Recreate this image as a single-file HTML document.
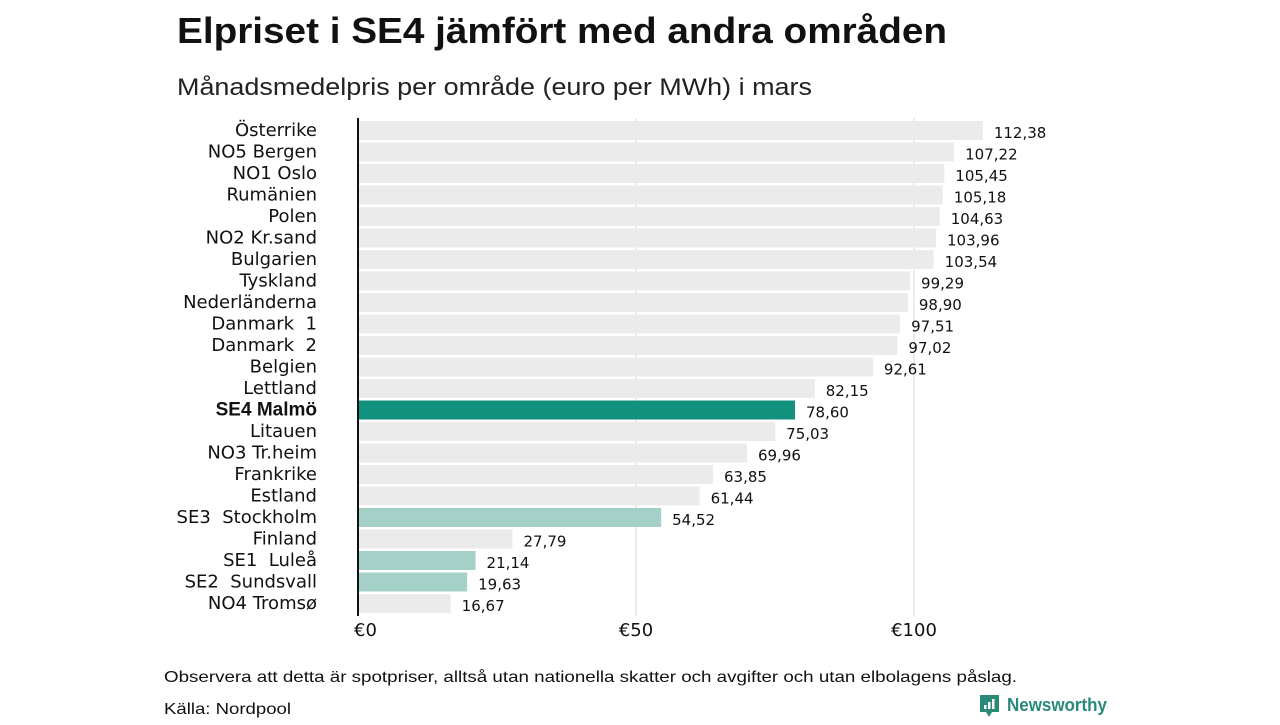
<!DOCTYPE html>
<html><head><meta charset="utf-8"><style>
body{margin:0;background:#fff;width:1280px;height:720px;overflow:hidden;font-family:"Liberation Sans",sans-serif}
</style></head><body>
<svg width="1280" height="720" font-family="DejaVu Sans, Liberation Sans, sans-serif">
<text x="177" y="43" font-size="36" font-weight="bold" fill="#111" textLength="770" lengthAdjust="spacingAndGlyphs" font-family="Liberation Sans, sans-serif">Elpriset i SE4 jämfört med andra områden</text>
<text x="177" y="95" font-size="24" fill="#222" textLength="635" lengthAdjust="spacingAndGlyphs" font-family="Liberation Sans, sans-serif">Månadsmedelpris per område (euro per MWh) i mars</text>
<g id="grid"></g>
<g id="bars"></g>
<line x1="358" y1="118" x2="358" y2="616" stroke="#111" stroke-width="2"/>
<g id="xt"></g>
<text x="164" y="682" font-size="16" fill="#111" textLength="853" lengthAdjust="spacingAndGlyphs" font-family="Liberation Sans, sans-serif">Observera att detta är spotpriser, alltså utan nationella skatter och avgifter och utan elbolagens påslag.</text>
<text x="164" y="714" font-size="16" fill="#111" textLength="127" lengthAdjust="spacingAndGlyphs" font-family="Liberation Sans, sans-serif">Källa: Nordpool</text>
<g>
<path d="M980 695 h19 v17 h-7 l-3 5 l-3 -5 h-6 z" fill="#2a8a7a"/>
<rect x="984" y="705" width="2.5" height="4" fill="#fff"/><rect x="988" y="702" width="2.5" height="7" fill="#fff"/><rect x="992" y="699" width="2.5" height="10" fill="#fff"/>
<text x="1007" y="711" font-size="18" font-weight="bold" fill="#2a8a7a" textLength="100" lengthAdjust="spacingAndGlyphs" font-family="Liberation Sans, sans-serif">Newsworthy</text>
</g>
</svg>
<script>
const categories=["Österrike","NO5 Bergen","NO1 Oslo","Rumänien","Polen","NO2 Kr.sand","Bulgarien","Tyskland","Nederländerna","Danmark  1","Danmark  2","Belgien","Lettland","SE4 Malmö","Litauen","NO3 Tr.heim","Frankrike","Estland","SE3  Stockholm","Finland","SE1  Luleå","SE2  Sundsvall","NO4 Tromsø"];
const values=[112.38,107.22,105.45,105.18,104.63,103.96,103.54,99.29,98.90,97.51,97.02,92.61,82.15,78.60,75.03,69.96,63.85,61.44,54.52,27.79,21.14,19.63,16.67];
const xTicks=[0,50,100];
const xTickLabels=["€0","€50","€100"];
const NS="http://www.w3.org/2000/svg";
const x=v=>358+v*5.56;
const y=i=>121+i*21.5;
function mk(t,a,p){const e=document.createElementNS(NS,t);for(const k in a)e.setAttribute(k,a[k]);p.appendChild(e);return e;}
const grid=document.getElementById('grid'),bars=document.getElementById('bars'),xt=document.getElementById('xt');
xTicks.forEach((t,i)=>{
 if(t>0){const l=mk('line',{x1:x(t),x2:x(t),y1:118,y2:616,stroke:'#d8d8d8','stroke-width':1},grid);
 
 }
 const tx=mk('text',{x:x(t)+(t==0?-4:0),y:636,'font-size':18,fill:'#111','text-anchor':t==0?'start':'middle'},xt);
 tx.textContent=xTickLabels[i];
 
 
});
categories.forEach((c,i)=>{
 const se=c.startsWith('SE');const main=c.startsWith('SE4');
 const fill=main?'#13917f':se?'#a5d0c7':'#ebebeb';
 const r=mk('rect',{x:359,y:y(i),width:x(values[i])-359,height:19,fill:fill},bars);
 
 
 const lb=mk('text',{x:317,y:y(i)+15,'font-size':main?19:18,fill:'#111','text-anchor':'end','font-weight':main?'bold':'normal','font-family':main?'Liberation Sans, sans-serif':'DejaVu Sans, sans-serif'},bars);
 lb.textContent=c;lb.style.whiteSpace='pre';
 
 
 const vl=mk('text',{x:x(values[i])+11,y:y(i)+17,'font-size':15,fill:'#111'},bars);
 vl.textContent=values[i].toFixed(2).replace('.',',');
 
 
});
</script>
</body></html>
